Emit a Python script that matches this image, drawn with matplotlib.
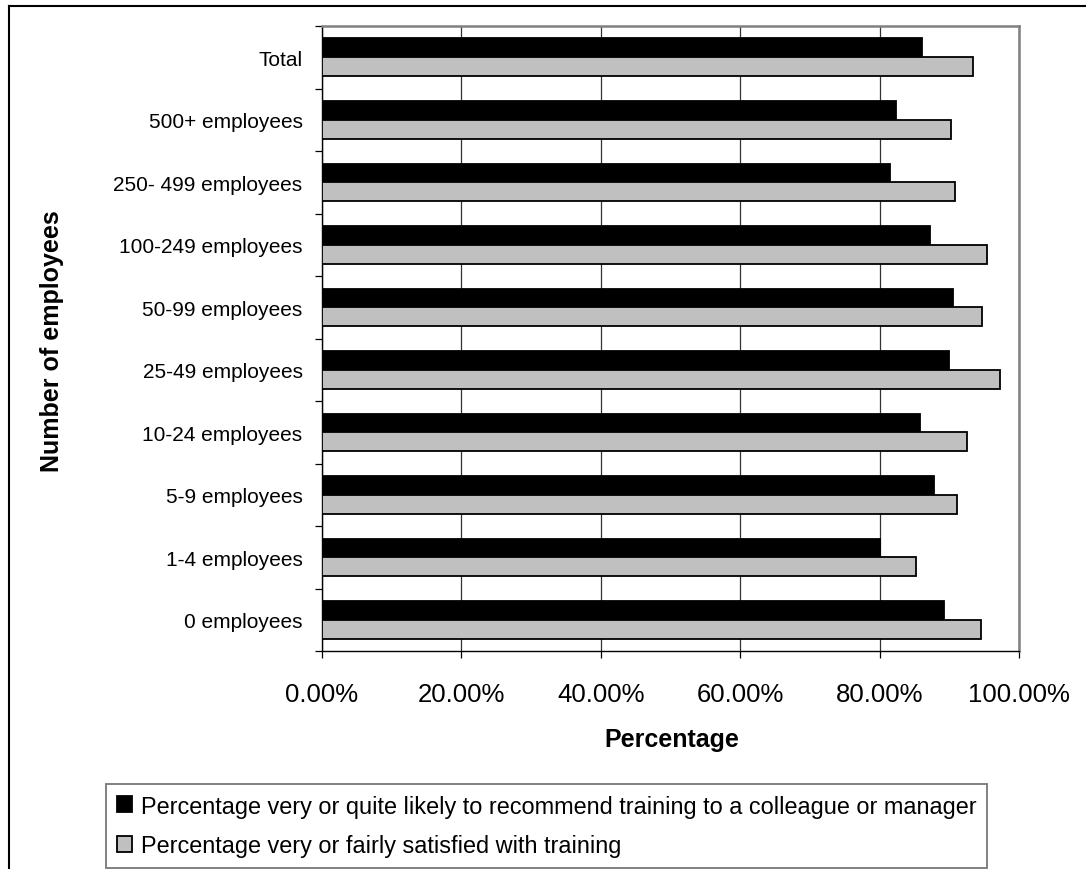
import matplotlib
matplotlib.use("Agg")
import matplotlib.pyplot as plt
from matplotlib.lines import Line2D
from matplotlib.patches import Patch
from matplotlib.ticker import FixedLocator, FuncFormatter
import numpy as np

plt.rcParams['font.family'] = ['Liberation Sans', 'DejaVu Sans']

# Employee-size bands, listed bottom to top as they appear on the axis
categories = ["0 employees", "1-4 employees", "5-9 employees", "10-24 employees",
              "25-49 employees", "50-99 employees", "100-249 employees",
              "250- 499 employees", "500+ employees", "Total"]

# Percentage very or quite likely to recommend training
recommend = [89.2, 80.1, 87.8, 85.8, 90.0, 90.6, 87.2, 81.5, 82.4, 86.1]
# Percentage very or fairly satisfied with training
satisfied = [94.5, 85.2, 91.1, 92.5, 97.3, 94.7, 95.4, 90.8, 90.2, 93.4]

x_ticks = [0, 20, 40, 60, 80, 100]

series_labels = [
    "Percentage very or quite likely to recommend training to a colleague or manager",
    "Percentage very or fairly satisfied with training",
]

W, H = 1086, 870
fig = plt.figure(figsize=(W / 100, H / 100), dpi=100)

# plot area in pixel coordinates
left, right, top, bottom = 322, 1019, 27, 652
ax = fig.add_axes([left / W, 1 - bottom / H, (right - left) / W, (bottom - top) / H])

y = np.arange(len(categories))
h = 0.3
ax.barh(y + h / 2, recommend, height=h, color="black", edgecolor="black",
        linewidth=1.3, zorder=3)
ax.barh(y - h / 2, satisfied, height=h, color="#C0C0C0", edgecolor="black",
        linewidth=1.3, zorder=3)

ax.set_xlim(0, 100)
ax.set_ylim(-0.5, len(categories) - 0.5)

# vertical gridlines
ax.xaxis.set_major_locator(FixedLocator(x_ticks))
ax.xaxis.set_major_formatter(FuncFormatter(lambda v, p: f"{v:.2f}%"))
ax.grid(axis="x", color="#333333", linewidth=0.9, zorder=0)

ax.set_yticks(y)
ax.set_yticklabels(categories)
ax.yaxis.set_minor_locator(FixedLocator(np.arange(-0.5, len(categories), 1.0)))
ax.tick_params(axis="y", which="major", length=0, pad=14, labelsize=15)
ax.tick_params(axis="y", which="minor", length=5, width=0.9, direction="out")
ax.tick_params(axis="x", which="major", length=5, width=0.9, direction="out",
               pad=17, labelsize=18.5)

for s in ("left", "bottom"):
    ax.spines[s].set_color("black")
    ax.spines[s].set_linewidth(1.0)
for s in ("top", "right"):
    ax.spines[s].set_color("#808080")
    ax.spines[s].set_linewidth(1.8)

fig.text(672 / W, 1 - 740 / H, "Percentage", ha="center", va="center",
         fontsize=18, fontweight="bold")
fig.text(52 / W, 1 - 341 / H, "Number of employees", ha="center", va="center",
         rotation=90, fontsize=18, fontweight="bold")

handles = [Patch(facecolor="black", edgecolor="black", linewidth=1.3),
           Patch(facecolor="#C0C0C0", edgecolor="black", linewidth=1.3)]
leg = fig.legend(handles, series_labels, loc="upper left",
                 bbox_to_anchor=(106 / W, 1 - 785 / H), borderaxespad=0,
                 fontsize=16.9, frameon=True, fancybox=False, shadow=False,
                 handlelength=0.65, handleheight=0.65, handletextpad=0.4,
                 labelspacing=0.7, borderpad=0.45)
leg.get_frame().set_edgecolor("#555555")
leg.get_frame().set_linewidth(1.3)

# outer chart border (runs off the right and bottom edges)
fig.add_artist(Line2D([9 / W, 1.0], [1 - 7 / H, 1 - 7 / H], transform=fig.transFigure,
                      color="black", linewidth=1.5))
fig.add_artist(Line2D([9 / W, 9 / W], [1 - 7 / H, 0.0], transform=fig.transFigure,
                      color="black", linewidth=1.5))

fig.savefig("out.png", dpi=100)
